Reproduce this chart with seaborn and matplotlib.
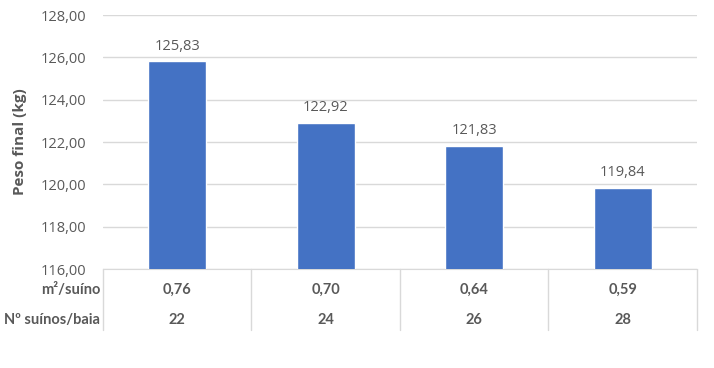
import matplotlib
matplotlib.use("Agg")
import matplotlib.pyplot as plt
import matplotlib.ticker as mticker
import pandas as pd
import seaborn as sns

# data
area = ["0,76", "0,70", "0,64", "0,59"]
pigs = ["22", "24", "26", "28"]
weight = [125.83, 122.92, 121.83, 119.84]

df = pd.DataFrame({"pigs": pigs, "weight": weight})

sns.set_style("white")
plt.rcParams["font.family"] = ["Open Sans", "DejaVu Sans"]
text_col = "#595959"
grid_col = "#d9d9d9"

fig = plt.figure(figsize=(7.14, 3.68), dpi=100)
ax = fig.add_axes([0.1443, 0.269, 0.8317, 0.6902])

sns.barplot(data=df, x="pigs", y="weight", color="#4472C4", width=0.39,
            saturation=1, ax=ax, zorder=3)

ax.set_ylim(116, 128)
ax.set_xlim(-0.5, 3.5)
ax.set_yticks([116, 118, 120, 122, 124, 126, 128])
ax.yaxis.set_major_formatter(mticker.FuncFormatter(lambda v, p: f"{v:.2f}".replace(".", ",")))
ax.tick_params(axis="y", length=0, labelsize=10.5, labelcolor=text_col, pad=12)
ax.set_xticks([])
ax.set_xlabel("")
ax.set_ylabel("Peso final (kg)", fontsize=11, fontweight="bold", color=text_col, labelpad=10)
ax.grid(axis="y", color=grid_col, linewidth=1, zorder=0)
for s in ["top", "right", "left"]:
    ax.spines[s].set_visible(False)
ax.spines["bottom"].set_color(grid_col)

# value labels
for i, v in enumerate(weight):
    ax.text(i, v + 0.35, f"{v:.2f}".replace(".", ","), ha="center", va="bottom",
            fontsize=10.5, color=text_col)

# data table beneath the axis
tr = ax.get_xaxis_transform()
for b in [-0.5, 0.5, 1.5, 2.5, 3.5]:
    ax.plot([b, b], [0, -0.24], color=grid_col, lw=1, transform=tr, clip_on=False)
row_y = [-0.082, -0.2]
tbl = dict(transform=tr, va="center", fontsize=10.5, fontweight="bold",
           color=text_col, family=["Lato", "DejaVu Sans"])
for i in range(len(pigs)):
    ax.text(i, row_y[0], area[i], ha="center", **tbl)
    ax.text(i, row_y[1], pigs[i], ha="center", **tbl)
ax.text(-0.52, row_y[0], "m²/suíno", ha="right", **tbl)
ax.text(-0.52, row_y[1], "Nº suínos/baia", ha="right", **tbl)

fig.savefig("out.png", dpi=100)
